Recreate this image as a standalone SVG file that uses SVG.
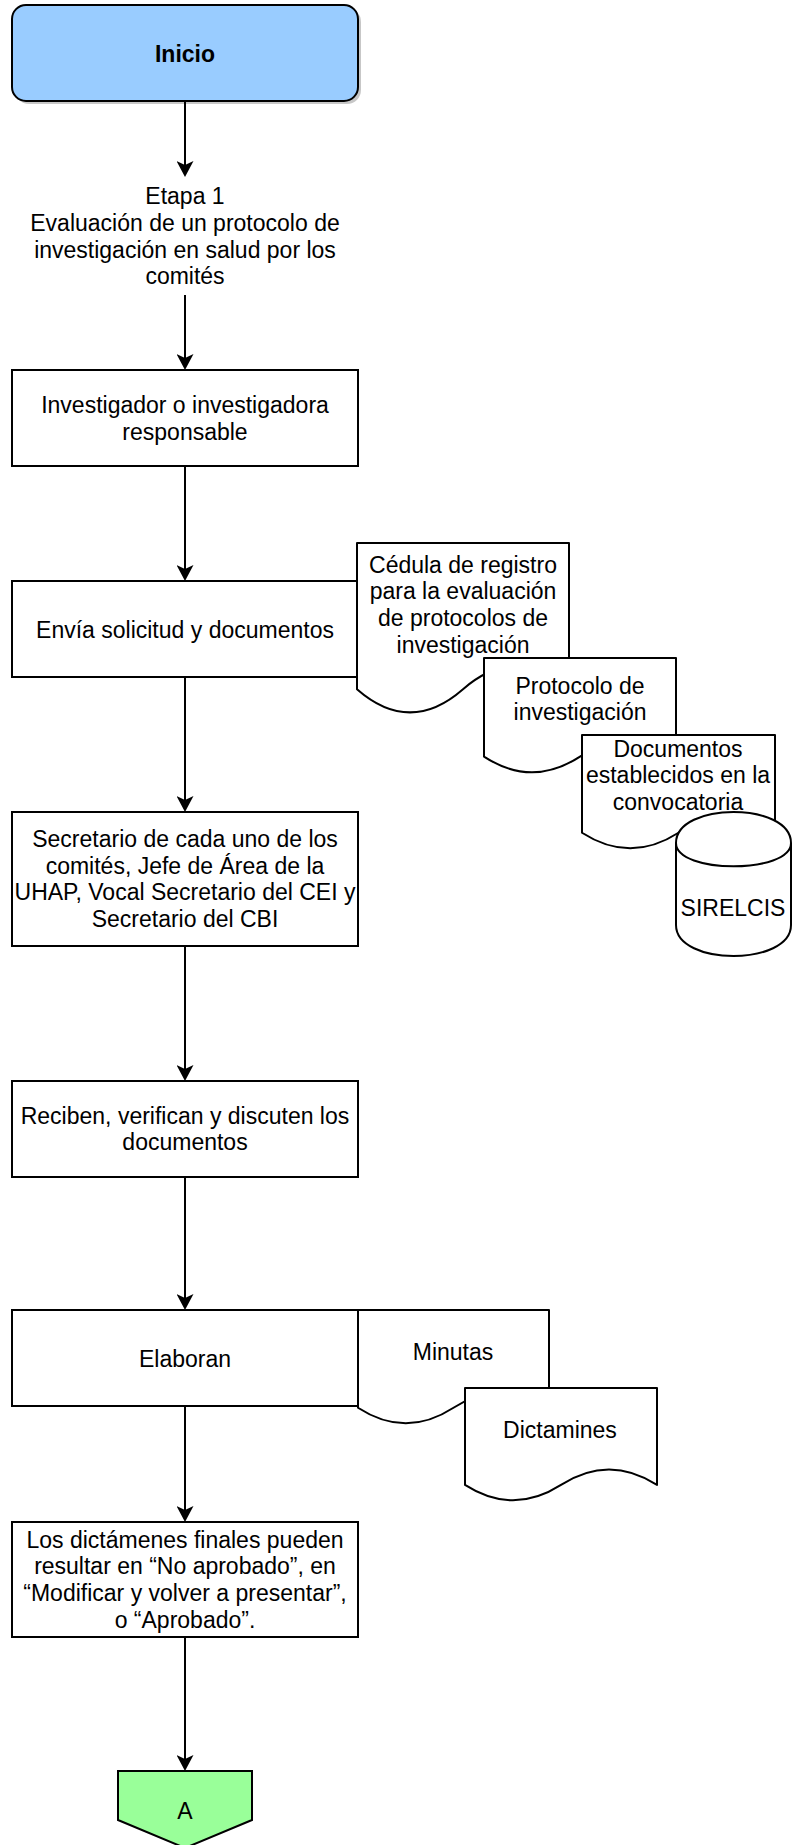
<svg xmlns="http://www.w3.org/2000/svg" width="792" height="1845" viewBox="0 0 792 1845">
<style>
  text { font-family: "Liberation Sans", Arial, Helvetica, sans-serif; font-size: 23px; fill: #000; text-anchor: middle; }
  .box { fill: #fff; stroke: #000; stroke-width: 2; }
  .doc { fill: #fff; stroke: #000; stroke-width: 2; stroke-linejoin: round; }
  .edge { fill: none; stroke: #000; stroke-width: 2; marker-end: url(#arr); }
</style>
<defs>
  <marker id="arr" markerUnits="userSpaceOnUse" markerWidth="16" markerHeight="17" viewBox="0 0 16 17" refX="10" refY="8.5" orient="auto">
    <path d="M16,8.5 L0,0 L4,8.5 L0,17 Z" fill="#000"/>
  </marker>
</defs>
<rect width="792" height="1845" fill="#fff"/>

<g id="inicio">
  <rect x="15" y="8" width="346" height="96" rx="14" fill="#999" opacity="0.55"/>
  <rect x="12" y="5" width="346" height="96" rx="14" fill="#99CCFF" stroke="#000" stroke-width="2"/>
  <text x="185" y="62" font-weight="bold">Inicio</text>
</g>

<g id="etapa1">
  <text x="185" y="204">Etapa 1</text>
  <text x="185" y="230.8">Evaluación de un protocolo de</text>
  <text x="185" y="257.6">investigación en salud por los</text>
  <text x="185" y="284.4">comités</text>
</g>

<g id="investigador">
  <rect class="box" x="12" y="370" width="346" height="96"/>
  <text x="185" y="413.3">Investigador o investigadora</text>
  <text x="185" y="440.1">responsable</text>
</g>

<g id="envia">
  <rect class="box" x="12" y="581" width="346" height="96"/>
  <text x="185" y="638">Envía solicitud y documentos</text>
</g>

<g id="cedula">
  <path class="doc" d="M357,543 L569,543 L569,689.2 Q516,643 463,689.2 Q410,735.6 357,689.2 Z"/>
  <text x="463" y="572.5">Cédula de registro</text>
  <text x="463" y="599.3">para la evaluación</text>
  <text x="463" y="626.1">de protocolos de</text>
  <text x="463" y="652.9">investigación</text>
</g>

<g id="protocolo">
  <path class="doc" d="M484,658 L676,658 L676,756.6 Q628,725.3 580,756.6 Q532,787.9 484,756.6 Z"/>
  <text x="580" y="693.5">Protocolo de</text>
  <text x="580" y="720.3">investigación</text>
</g>

<g id="documentos">
  <path class="doc" d="M582,735 L775,735 L775,832.75 Q726.75,801.7 678.5,832.75 Q630.25,863.8 582,832.75 Z"/>
  <text x="678" y="756.5">Documentos</text>
  <text x="678" y="783.3">establecidos en la</text>
  <text x="678" y="810.1">convocatoria</text>
</g>

<g id="sirelcis">
  <path class="doc" d="M676,843 C676,801.7 791,801.7 791,843 L791,925 C791,966.3 676,966.3 676,925 Z"/>
  <path class="doc" fill="none" d="M676,843 C676,874 791,874 791,843"/>
  <text x="733" y="916">SIRELCIS</text>
</g>

<g id="secretario">
  <rect class="box" x="12" y="812" width="346" height="134"/>
  <text x="185" y="846.7">Secretario de cada uno de los</text>
  <text x="185" y="873.5">comités, Jefe de Área de la</text>
  <text x="185" y="900.3">UHAP, Vocal Secretario del CEI y</text>
  <text x="185" y="927.1">Secretario del CBI</text>
</g>

<g id="reciben">
  <rect class="box" x="12" y="1081" width="346" height="96"/>
  <text x="185" y="1123.6">Reciben, verifican y discuten los</text>
  <text x="185" y="1150.4">documentos</text>
</g>

<g id="elaboran">
  <rect class="box" x="12" y="1310" width="346" height="96"/>
  <text x="185" y="1366.5">Elaboran</text>
</g>

<g id="minutas">
  <path class="doc" d="M358,1310 L549,1310 L549,1407.75 Q501.25,1376.7 453.5,1407.75 Q405.75,1438.8 358,1407.75 Z"/>
  <text x="453" y="1360">Minutas</text>
</g>

<g id="dictamines">
  <path class="doc" d="M465,1388 L657,1388 L657,1484.9 Q609,1454.1 561,1484.9 Q513,1515.7 465,1484.9 Z"/>
  <text x="560" y="1437.5">Dictamines</text>
</g>

<g id="dictamenes-finales">
  <rect class="box" x="12" y="1522" width="346" height="115"/>
  <text x="185" y="1547.5">Los dictámenes finales pueden</text>
  <text x="185" y="1574.3">resultar en “No aprobado”, en</text>
  <text x="185" y="1601.1">“Modificar y volver a presentar”,</text>
  <text x="185" y="1627.9">o “Aprobado”.</text>
</g>

<g id="conector-a">
  <path d="M118,1771 L252,1771 L252,1820 L185,1848 L118,1820 Z" fill="#99FF99" stroke="#000" stroke-width="2" stroke-linejoin="miter"/>
  <text x="185" y="1819">A</text>
</g>

<g id="connectors">
  <line class="edge" x1="185" y1="101" x2="185" y2="171"/>
  <line class="edge" x1="185" y1="295" x2="185" y2="364"/>
  <line class="edge" x1="185" y1="466" x2="185" y2="575"/>
  <line class="edge" x1="185" y1="677" x2="185" y2="806"/>
  <line class="edge" x1="185" y1="946" x2="185" y2="1075"/>
  <line class="edge" x1="185" y1="1177" x2="185" y2="1304"/>
  <line class="edge" x1="185" y1="1406" x2="185" y2="1516"/>
  <line class="edge" x1="185" y1="1637" x2="185" y2="1765"/>
</g>
</svg>
